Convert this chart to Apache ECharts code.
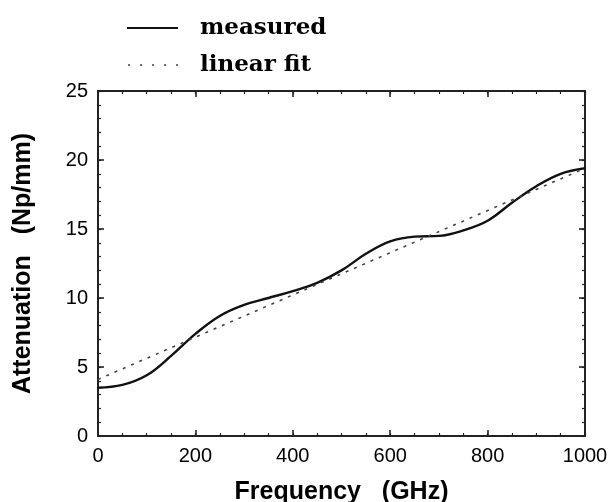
<!DOCTYPE html>
<html>
<head>
<meta charset="utf-8">
<script src="https://cdn.jsdelivr.net/npm/echarts@6/dist/echarts.min.js"></script>
<style>html,body{margin:0;padding:0;background:#fff}#c{width:614px;height:502px}</style>
</head>
<body>
<div id="c"></div>
<script>
// Data
const frequency = [0, 50, 100, 150, 200, 250, 300, 350, 400, 450, 500, 550, 600, 650, 700, 750, 800, 850, 900, 950, 1000];
const measured  = [3.5, 3.7, 4.4, 5.8, 7.4, 8.7, 9.5, 10.0, 10.5, 11.1, 12.0, 13.2, 14.1, 14.45, 14.5, 14.9, 15.6, 16.9, 18.1, 19.0, 19.4];
const fitFrequency = [0, 1000];
const linearFit    = [4.1, 19.4];
const xTicks = [0, 200, 400, 600, 800, 1000];
const yTicks = [0, 5, 10, 15, 20, 25];
const xMinorStep = 50;
const yMinorStep = 1;
const seriesNames = ['measured', 'linear fit'];

const chart = echarts.init(document.getElementById('c'), null, {renderer: 'canvas'});

const tickFont = {color: '#000', fontFamily: 'Liberation Sans', fontSize: 20};
const titleFont = {color: '#000', fontFamily: 'Liberation Sans', fontWeight: 'bold', fontSize: 25};
const legendFont = {fill: '#000', fontFamily: 'DejaVu Serif', fontWeight: 'bold', fontSize: 23};

const xMin = xTicks[0], xMax = xTicks[xTicks.length - 1];
const yMin = yTicks[0], yMax = yTicks[yTicks.length - 1];

function makeAxis(kind, position, step, major, extra) {
  const isX = kind === 'x';
  return Object.assign({
    type: 'value',
    min: isX ? xMin : yMin,
    max: isX ? xMax : yMax,
    interval: step,
    position: position,
    offset: 0,
    axisLine: {show: major, onZero: false, lineStyle: {color: '#222', width: 2}},
    axisTick: {show: true, inside: true, length: major ? 6 : 3, lineStyle: {color: '#222', width: major ? 1.6 : 1.2}},
    axisLabel: {show: false},
    splitLine: {show: false}
  }, extra || {});
}

const option = {
  animation: false,
  backgroundColor: '#fff',
  grid: {left: 98, right: 29, top: 91, bottom: 66, containLabel: false, outerBoundsMode: 'none'},
  graphic: [
    {type: 'line', shape: {x1: 127, y1: 28, x2: 178, y2: 28}, style: {stroke: '#111', lineWidth: 2.2}},
    {type: 'text', left: 200, top: 17, style: Object.assign({text: seriesNames[0]}, legendFont)},
    {type: 'line', shape: {x1: 128, y1: 65, x2: 180, y2: 65}, style: {stroke: '#444', lineWidth: 1.5, lineDash: [2, 10]}},
    {type: 'text', left: 200, top: 54, style: Object.assign({text: seriesNames[1]}, legendFont)}
  ],
  xAxis: [
    makeAxis('x', 'bottom', xTicks[1] - xTicks[0], true, {
      axisLabel: Object.assign({show: true, margin: 10, formatter: v => String(v)}, tickFont),
      name: 'Frequency   (GHz)', nameLocation: 'middle', nameGap: 44, nameTextStyle: titleFont
    }),
    makeAxis('x', 'top', xTicks[1] - xTicks[0], true),
    makeAxis('x', 'bottom', xMinorStep, false),
    makeAxis('x', 'top', xMinorStep, false)
  ],
  yAxis: [
    makeAxis('y', 'left', yTicks[1] - yTicks[0], true, {
      axisLabel: Object.assign({show: true, margin: 10, formatter: v => String(v)}, tickFont),
      name: 'Attenuation   (Np/mm)', nameLocation: 'middle', nameGap: 62, nameRotate: 90, nameTextStyle: titleFont
    }),
    makeAxis('y', 'right', yTicks[1] - yTicks[0], true),
    makeAxis('y', 'left', yMinorStep, false),
    makeAxis('y', 'right', yMinorStep, false)
  ],
  series: [
    {
      name: seriesNames[0], type: 'line', smooth: 0.4, symbol: 'none',
      xAxisIndex: 0, yAxisIndex: 0,
      data: frequency.map((f, i) => [f, measured[i]]),
      lineStyle: {color: '#111', width: 2.4}
    },
    {
      name: seriesNames[1], type: 'line', symbol: 'none',
      xAxisIndex: 0, yAxisIndex: 0,
      data: fitFrequency.map((f, i) => [f, linearFit[i]]),
      lineStyle: {color: '#444', width: 1.6, type: [3, 6]}
    }
  ]
};
chart.setOption(option);
</script>
</body>
</html>
